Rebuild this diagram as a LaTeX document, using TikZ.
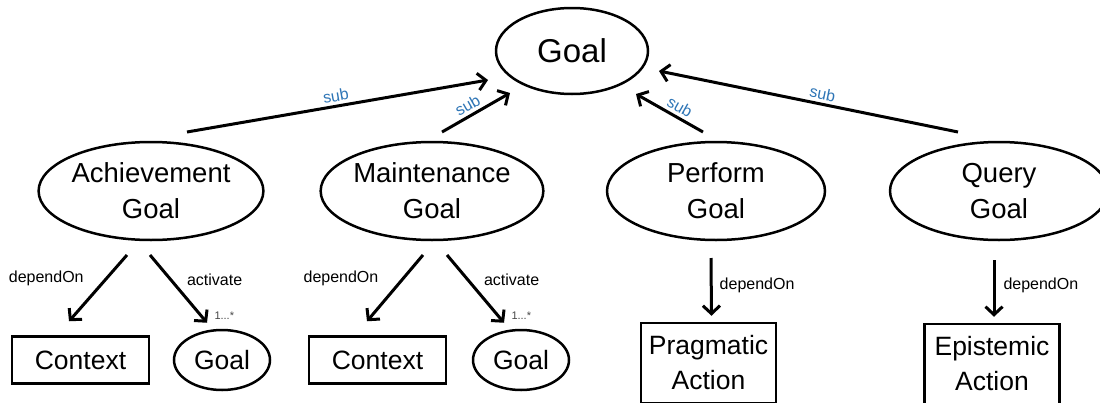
\documentclass[tikz,border=0pt]{standalone}
\usepackage{fontspec}
\setmainfont{Liberation Sans}
\usetikzlibrary{shapes.geometric,arrows.meta,calc}
\definecolor{subblue}{RGB}{46,117,182}
\definecolor{multgray}{RGB}{70,70,70}
\begin{document}
\begin{tikzpicture}[x=1pt,y=-1pt,
  ell/.style={draw, ellipse, line width=2.5pt, inner sep=0pt, align=center},
  topell/.style={ell, minimum width=152pt, minimum height=86pt, font=\fontsize{33}{40}\selectfont},
  midell/.style={ell, minimum width=218pt, minimum height=98pt, font=\fontsize{27.5}{36}\selectfont},
  smallell/.style={ell, minimum width=96pt, minimum height=60pt, font=\fontsize{26.5}{32}\selectfont},
  ctxbox/.style={draw, rectangle, line width=2.5pt, inner sep=0pt, minimum width=137pt, minimum height=47pt, font=\fontsize{26.5}{32}\selectfont},
  actbox/.style={draw, rectangle, line width=2.5pt, inner sep=0pt, minimum width=135pt, align=center, font=\fontsize{26.5}{35}\selectfont},
  arr/.style={line width=3pt, -{Straight Barb[length=8pt,width=17pt]}},
  sublab/.style={text=subblue, font=\fontsize{16}{19}\selectfont, inner sep=3pt},
  lab/.style={font=\fontsize{16}{19}\selectfont, inner sep=0pt},
  mult/.style={text=multgray, font=\fontsize{11}{13}\selectfont, inner sep=0pt}
]
\useasboundingbox (0,0) rectangle (1100,402);

% nodes
\node[topell] (goal) at (572,51) {Goal};
\node[midell] (ach) at (151,191) {Achievement\\Goal};
\node[midell] (main) at (432,191) {Maintenance\\Goal};
\node[midell] (perf) at (716,191) {Perform\\Goal};
\node[midell] (query) at (999,191) {Query\\Goal};
\node[ctxbox] (ctx1) at (80.5,360) {Context};
\node[smallell] (g1) at (222,360) {Goal};
\node[ctxbox] (ctx2) at (377.5,360) {Context};
\node[smallell] (g2) at (521,360) {Goal};
\node[actbox, minimum height=80pt] (prag) at (708.5,363) {Pragmatic\\Action};
\node[actbox, minimum height=80pt] (epi) at (992,364) {Epistemic\\Action};

% sub connectors
\draw[arr] ($(ach.center)+(36,-59)$) -- node[sublab, sloped, above] (s1) {sub} ($(goal.center)+(-84,29)$);
\draw[arr] ($(main.center)+(10,-59)$) -- node[sublab, sloped, above, pos=0.45] (s2) {sub} ($(goal.center)+(-62,42)$);
\draw[arr] ($(perf.center)+(-13,-59)$) -- node[sublab, sloped, above, pos=0.42] (s3) {sub} ($(goal.center)+(64,43)$);
\draw[arr] ($(query.center)+(-41,-59)$) -- node[sublab, sloped, above, pos=0.46] (s4) {sub} ($(goal.center)+(87,20)$);

% lower connectors
\draw[arr] ($(ach.center)+(-24,64)$) -- node[lab, pos=0.36, anchor=east, xshift=-21pt] (d1) {dependOn} ($(ctx1.north)+(-11.5,-14)$);
\draw[arr] ($(ach.center)+(-1,64)$) -- node[lab, pos=0.36, anchor=west, xshift=15pt] (a1) {activate} ($(g1.north)+(-15,-6)$)
  node[mult, anchor=west, xshift=6pt, yshift=7pt] (m1) {1...*};
\draw[arr] ($(main.center)+(-9,64)$) -- node[lab, pos=0.36, anchor=east, xshift=-23pt] (d2) {dependOn} ($(ctx2.north)+(-10.5,-14)$);
\draw[arr] ($(main.center)+(15,64)$) -- node[lab, pos=0.36, anchor=west, xshift=15pt] (a2) {activate} ($(g2.north)+(-17,-6)$)
  node[mult, anchor=west, xshift=6pt, yshift=7pt] (m2) {1...*};
\draw[arr] ($(perf.center)+(-5,67)$) -- node[lab, pos=0.48, anchor=west, xshift=7pt] (d3) {dependOn} ($(prag.north)+(3,-6)$);
\draw[arr] ($(query.center)+(-5,69)$) -- node[lab, pos=0.45, anchor=west, xshift=8pt] (d4) {dependOn} ($(epi.north)+(2,-6)$);
\end{tikzpicture}
\end{document}
